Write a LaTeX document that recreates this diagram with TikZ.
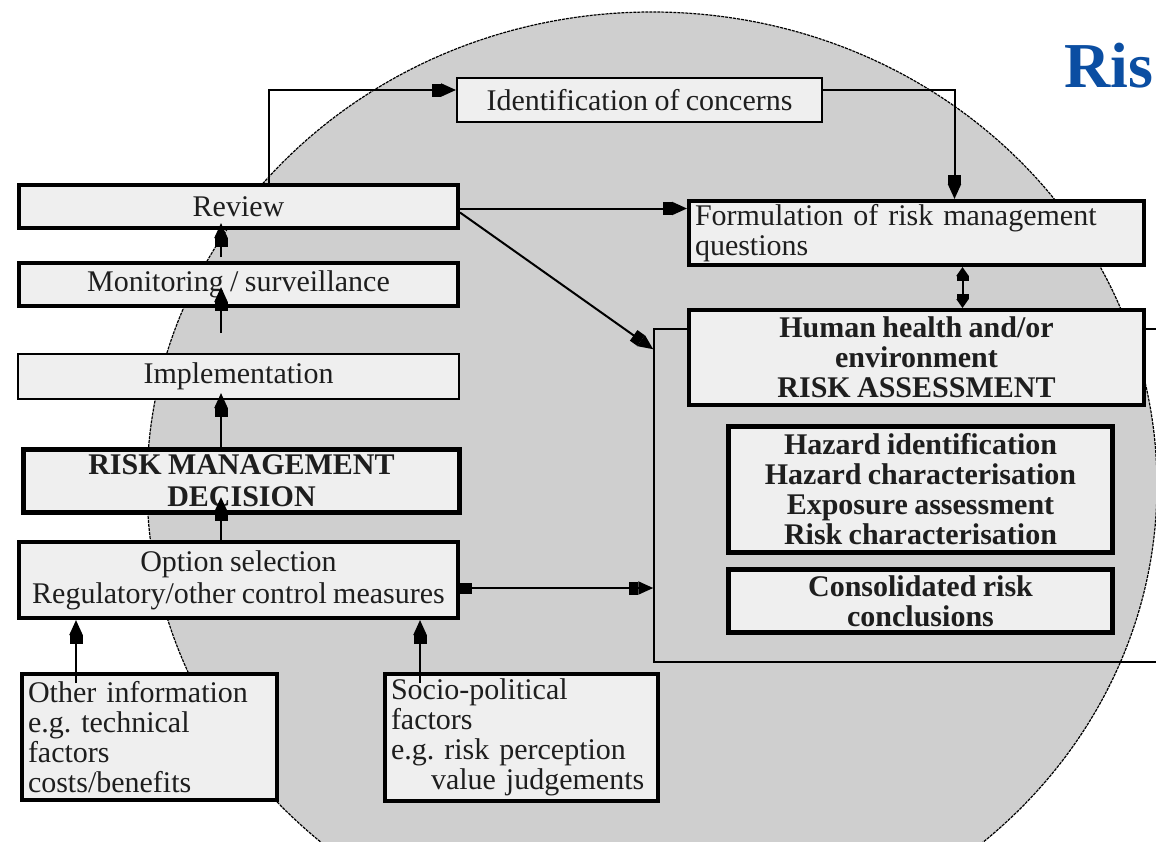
\documentclass[tikz,border=0pt]{standalone}
\usepackage{fontspec}
\setmainfont{Liberation Serif}[WordSpace=0.85]
\usetikzlibrary{arrows.meta, positioning}
\definecolor{discgray}{HTML}{CFCFCF}
\definecolor{boxfill}{HTML}{EFEFEF}
\definecolor{titleblue}{HTML}{0B4EA2}
\definecolor{inkgray}{HTML}{1E1E1E}
\tikzset{
  box/.style={
    rectangle,
    draw=black,
    fill=boxfill,
    text=inkgray,
    line width=4pt,
    align=center,
    inner sep=0pt,
    font=\fontsize{30}{30}\selectfont
  },
  thinbox/.style={
    box,
    line width=2pt
  },
  boldbox/.style={
    box,
    font=\fontsize{30}{30}\selectfont\bfseries
  },
  notebox/.style={
    box,
    align=left,
    inner xsep=6pt
  },
  frameline/.style={
    rectangle,
    draw=black,
    line width=1.5pt
  },
  arrow/.style={
    -{Rectangle[length=9pt,width=13pt,sep=0pt]Triangle[length=15pt,width=13pt]},
    line width=2pt
  },
  twoway/.style={
    {Triangle[length=9pt,width=12pt,sep=0pt]Rectangle[length=5pt,width=12pt,sep=0pt]}-{Rectangle[length=5pt,width=12pt,sep=0pt]Triangle[length=9pt,width=12pt]},
    line width=2pt
  },
  squarearrow/.style={
    {Rectangle[length=12pt,width=11pt]}-{Rectangle[length=9pt,width=13pt,sep=0pt]Triangle[length=15pt,width=13pt]},
    line width=2pt
  }
}

\begin{document}
\begin{tikzpicture}[x=1pt, y=-1pt]
    \useasboundingbox (0,0) rectangle (1156,841);

    % background disc and assessment frame
    \begin{scope}
        \clip (0,0) rectangle (1156,841);
        \filldraw[fill=discgray, draw=black, line width=1.2pt, dash pattern=on 3pt off 1pt]
            (652,485) ellipse [x radius=505pt, y radius=473pt];
        \node[frameline, minimum width=521pt, minimum height=333pt] (riskframe) at (914.5,495.5) {};
    \end{scope}

    \node[font=\fontsize{64}{64}\selectfont\bfseries, text=titleblue, anchor=base west, inner sep=0pt] (title) at (1064,87) {Ris};

    \coordinate (spine) at (221,0);

    % management side
    \node[box, minimum width=439pt, minimum height=43pt] (review) at (238.5,206.5) {Review};
    \node[box, minimum width=439pt, minimum height=43pt, below=31pt of review] (monitor) {Monitoring / surveillance};
    \node[thinbox, minimum width=441pt, minimum height=45pt, below=45pt of monitor] (implement) {Implementation};
    \node[boldbox, line width=5pt, minimum width=436pt, minimum height=63pt, below=47pt of implement, xshift=3pt,
          font=\fontsize{30}{32}\selectfont\bfseries] (decision) {RISK MANAGEMENT\\DECISION};
    \node[box, minimum width=439pt, minimum height=76pt, below=25pt of decision, xshift=-3pt,
          font=\fontsize{30}{32}\selectfont] (option) {Option selection\\Regulatory/other control measures};
    \node[notebox, text width=243pt, minimum height=126pt] (otherinfo) at (149.5,737) {Other information\\e.g.\ technical\\factors\\costs/benefits};
    \node[notebox, text width=261pt, minimum height=127pt] (sociopol) at (521.5,737.5) {Socio-political\\factors\\e.g.\ risk perception\\\hspace*{40pt}value judgements};

    % assessment side
    \node[thinbox, minimum width=365pt, minimum height=44pt] (concerns) at (639.5,100) {Identification of concerns};
    \node[notebox, text width=443pt, minimum height=64pt] (questions) at (916.5,233) {Formulation of risk management\\questions};
    \node[boldbox, minimum width=455pt, minimum height=95pt, below=41pt of questions] (assessment) {Human health and/or\\environment\\RISK ASSESSMENT};
    \node[boldbox, line width=5pt, minimum width=384pt, minimum height=126pt, below=17pt of assessment, xshift=4pt] (hazard)
          {Hazard identification\\Hazard characterisation\\Exposure assessment\\Risk characterisation};
    \node[boldbox, line width=5pt, minimum width=384pt, minimum height=63pt, below=12pt of hazard] (conclusions) {Consolidated risk\\conclusions};

    \draw[arrow] ([yshift=4pt]monitor.north -| spine) -- ([yshift=7pt]review.south -| spine);
    \draw[arrow] ([yshift=20pt]implement.north -| spine) -- ([yshift=21pt]monitor.south -| spine);
    \draw[arrow] (decision.north -| spine) -- ([yshift=7pt]implement.south -| spine);
    \draw[arrow] (option.north -| spine) -- ([yshift=18pt]decision.south -| spine);
    \draw[arrow] ([xshift=-73.5pt,yshift=-11pt]otherinfo.north) -- ([xshift=-73.5pt]otherinfo.north |- option.south);
    \draw[arrow] ([xshift=-101.5pt,yshift=-11pt]sociopol.north) -- ([xshift=-101.5pt]sociopol.north |- option.south);
    \draw[arrow] ([xshift=30pt]review.north) |- ([yshift=10pt]concerns.west);
    \draw[arrow] ([yshift=10pt]concerns.east) -| ([xshift=38pt]questions.north);
    \draw[arrow] ([yshift=-2pt]review.east) -- ([yshift=-2pt]review.east -| questions.west);
    \draw[arrow] ([yshift=-6pt]review.east) -- ([yshift=-21pt]riskframe.north west);
    \draw[twoway] ([xshift=46pt]questions.south) -- ([xshift=46pt]assessment.north);
    \draw[squarearrow] ([yshift=-8pt]option.east) -- ([yshift=-8pt]option.east -| riskframe.west);
\end{tikzpicture}
\end{document}
